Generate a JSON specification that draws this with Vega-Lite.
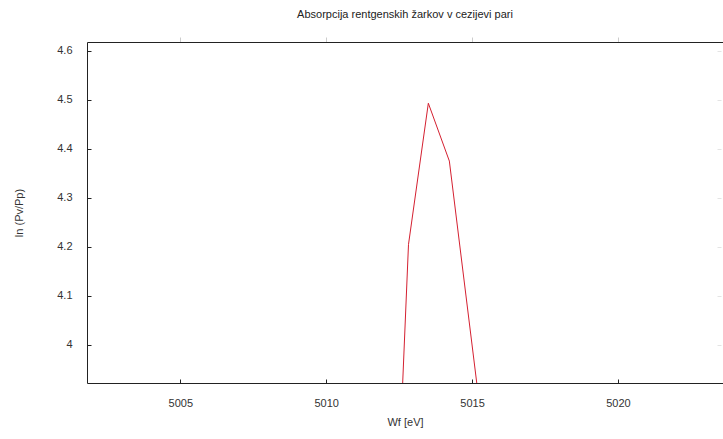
{
  "$schema": "https://vega.github.io/schema/vega-lite/v6.json",
  "autosize": "none",
  "padding": {"left": 87, "top": 42, "right": 0, "bottom": 56},
  "width": 636,
  "height": 341,
  "background": "white",
  "config": {
    "view": {"stroke": null},
    "font": "Liberation Sans",
    "axis": {"grid": false, "domainColor": "#222", "labelColor": "#333", "titleColor": "#333", "labelFont": "Liberation Sans", "titleFont": "Liberation Sans", "labelFontSize": 11, "titleFontSize": 11, "titleFontWeight": "normal", "tickColor": "#222"}
  },
  "title": {"text": "Absorpcija rentgenskih žarkov v cezijevi pari", "fontSize": 11, "fontWeight": "normal", "font": "Liberation Sans", "color": "#222", "anchor": "middle", "offset": 17},
  "data": {"values": [
    {"wf": 5012.5, "y": 3.752},
    {"wf": 5012.82, "y": 4.205},
    {"wf": 5013.5, "y": 4.493},
    {"wf": 5014.22, "y": 4.375},
    {"wf": 5015.5, "y": 3.758}
  ]},
  "layer": [
    {
      "mark": {"type": "line", "color": "#d42030", "strokeWidth": 1, "clip": true},
      "encoding": {
        "x": {"field": "wf", "type": "quantitative", "scale": {"domain": [5001.8, 5023.6], "nice": false, "zero": false},
          "axis": {"title": "Wf [eV]", "values": [5005, 5010, 5015, 5020], "tickSize": -4, "labelPadding": 18, "titlePadding": 8, "format": "d"}},
        "y": {"field": "y", "type": "quantitative", "scale": {"domain": [3.922, 4.618], "nice": false, "zero": false},
          "axis": {"title": "ln (Pv/Pp)", "values": [4.0, 4.1, 4.2, 4.3, 4.4, 4.5, 4.6], "tickSize": -4, "labelPadding": 19, "titlePadding": 32, "labelExpr": "datum.value == 4 ? '4' : format(datum.value, '.1f')"}}
      }
    },
    {
      "mark": {"type": "line", "opacity": 0},
      "encoding": {
        "x": {"field": "wf", "type": "quantitative", "axis": {"orient": "top", "title": null, "labels": false, "values": [5005, 5010, 5015, 5020], "tickSize": 5, "tickColor": "#ccc", "tickOffset": 0}},
        "y": {"field": "y", "type": "quantitative", "axis": {"orient": "right", "title": null, "labels": false, "domain": false, "values": [4.0, 4.1, 4.2, 4.3, 4.4, 4.5, 4.6], "tickSize": -4, "tickColor": "#e4e4e4", "offset": -2}}
      }
    }
  ],
  "resolve": {"axis": {"x": "independent", "y": "independent"}}
}
